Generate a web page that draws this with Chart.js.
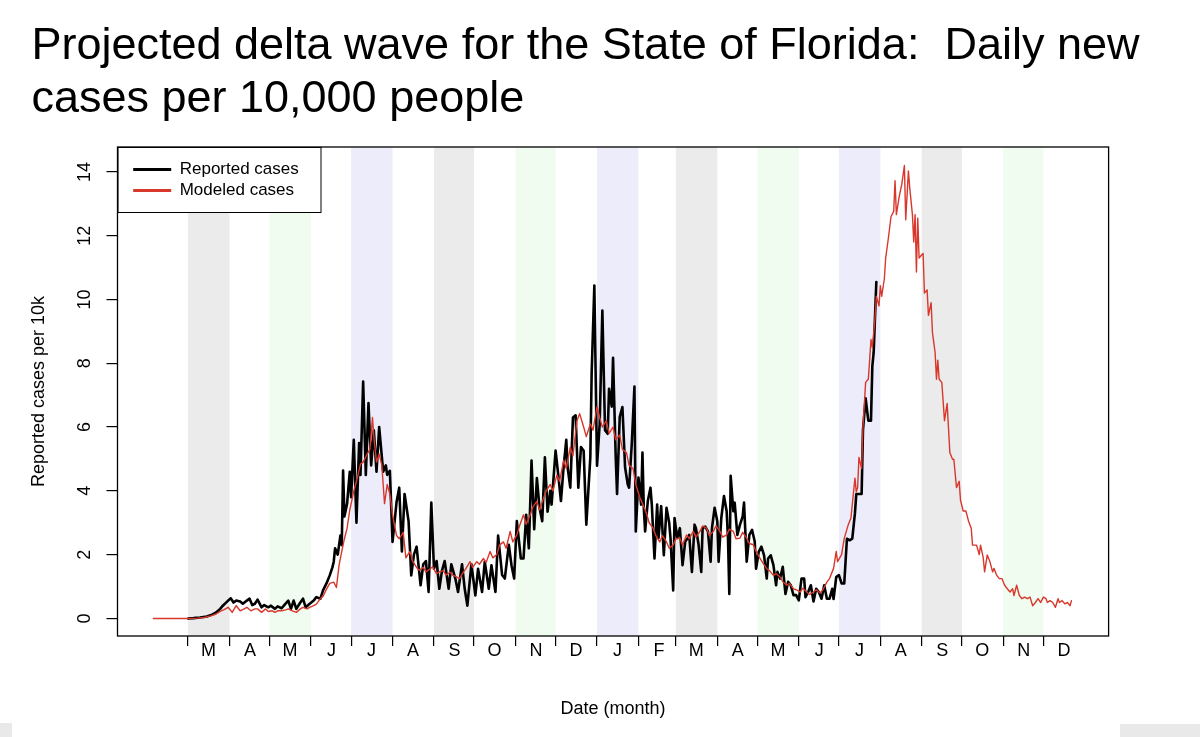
<!DOCTYPE html>
<html>
<head>
<meta charset="utf-8">
<title>Projected delta wave for the State of Florida</title>
<script src="https://cdn.jsdelivr.net/npm/chart.js@4.4.1/dist/chart.umd.min.js"></script>
<style>
  html, body { margin: 0; padding: 0; background: #fff; overflow: hidden; }
  #wrap { position: relative; width: 1200px; height: 737px; }
  #chart { display: block; }
  .tab { position: absolute; background: #e9e9e9; }
</style>
</head>
<body>
<div id="wrap">
  <canvas id="chart" width="1200" height="737"></canvas>
  <div class="tab" style="left:0;top:723px;width:12px;height:14px"></div>
  <div class="tab" style="left:1120px;top:724px;width:80px;height:13px"></div>
</div>
<script>
// day 0 = 4 Feb 2020
const monthStarts = [26, 57, 87, 118, 148, 179, 210, 240, 271, 301, 332,
  363, 391, 422, 452, 483, 513, 544, 575, 605, 636, 666];
const monthLabels = ['M', 'A', 'M', 'J', 'J', 'A', 'S', 'O', 'N', 'D', 'J',
  'F', 'M', 'A', 'M', 'J', 'J', 'A', 'S', 'O', 'N', 'D'];
const shadedMonths = [0, 2, 4, 6, 8, 10, 12, 14, 16, 18, 20];
const bandColors = ['#ebebeb', '#f0fcf0', '#ececfa'];
const yTicks = [0, 2, 4, 6, 8, 10, 12, 14];

const reportedDay = [
  26, 30, 35, 40, 44, 47, 50, 52, 54, 56,
  58, 60, 62, 65, 67, 70, 72, 74, 76, 78,
  81, 83, 86, 88, 91, 93, 96, 98, 101, 103,
  105, 107, 110, 112, 114, 117, 120, 122, 125, 127,
  130, 132, 134, 135, 136, 138, 140, 141, 142, 143,
  145, 147, 148, 150, 152, 154, 155, 157, 159, 161,
  163, 165, 167, 169, 172, 174, 175, 177, 179, 182,
  184, 186, 188, 191, 193, 195, 197, 200, 202, 204,
  206, 208, 210, 212, 214, 216, 218, 221, 223, 226,
  228, 231, 233, 235, 238, 241, 243, 246, 248, 251,
  253, 256, 258, 261, 263, 266, 268, 270, 272, 275,
  277, 279, 281, 283, 285, 287, 289, 291, 293, 295,
  297, 298, 301, 303, 305, 307, 309, 310, 312, 314,
  316, 318, 320, 322, 324, 327, 328, 330, 332, 334,
  336, 338, 340, 341, 343, 344, 346, 347, 349, 351,
  353, 355, 356, 358, 360, 361, 363, 365, 366, 367,
  368, 370, 372, 373, 375, 377, 378, 380, 382, 384,
  386, 387, 389, 390, 392, 394, 396, 398, 400, 401,
  403, 405, 406, 408, 410, 411, 413, 415, 417, 418,
  420, 422, 423, 425, 427, 429, 430, 431, 432, 434,
  435, 437, 439, 441, 442, 444, 446, 448, 450, 451,
  453, 455, 457, 459, 460, 462, 464, 466, 467, 469,
  471, 473, 475, 477, 479, 481, 483, 485, 487, 488,
  490, 492, 494, 496, 498, 500, 502, 504, 506, 508,
  509, 511, 513, 515, 517, 519, 521, 523, 525, 526,
  530, 531, 533, 535, 537, 538, 539, 541
];
const reportedCases = [
  0, 0.01, 0.03, 0.06, 0.12, 0.19, 0.3, 0.4, 0.48, 0.56,
  0.63, 0.5, 0.56, 0.53, 0.46, 0.56, 0.62, 0.42, 0.46, 0.59,
  0.35, 0.42, 0.35, 0.4, 0.3, 0.38, 0.32, 0.42, 0.56, 0.3,
  0.56, 0.3, 0.5, 0.62, 0.35, 0.46, 0.56, 0.67, 0.62, 0.88,
  1.14, 1.35, 1.6, 1.78, 2.2, 2.0, 2.6, 2.3, 4.64, 3.2,
  3.6, 4.6, 3.8, 5.6, 3.0, 5.5, 4.5, 7.43, 4.5, 6.75,
  4.8, 5.9, 4.6, 6.0, 4.6, 4.8, 4.5, 4.63, 2.4, 3.65,
  4.1, 2.1, 3.9, 3.05, 1.35, 2.0, 2.25, 1.04, 1.7, 1.8,
  0.83, 3.63, 1.56, 1.8, 0.93, 1.5, 1.8, 0.93, 1.7, 1.25,
  0.83, 1.7, 0.93, 0.4, 1.7, 0.72, 1.56, 0.83, 1.78, 0.93,
  1.67, 0.83, 2.6, 1.36, 1.25, 2.31, 1.67, 1.25, 3.05, 1.88,
  1.88, 3.25, 2.2, 4.95, 2.8, 4.4, 3.46, 3.05, 5.05, 3.35,
  4.0, 3.57, 5.26, 4.5, 3.68, 4.74, 5.6, 4.74, 4.1, 6.3,
  6.37, 4.1, 5.37, 5.26, 2.94, 5.05, 7.7, 10.44, 4.79, 6.1,
  9.65, 5.9, 5.79, 7.2, 6.64, 8.17, 5.05, 3.9, 6.32, 6.63,
  4.74, 4.2, 4.1, 5.47, 7.27, 2.73, 4.42, 3.57, 5.2, 3.47,
  2.73, 3.68, 4.1, 3.57, 1.88, 3.57, 2.52, 3.52, 1.98, 3.47,
  3.0, 2.52, 0.88, 3.15, 2.52, 2.83, 1.67, 2.41, 2.52, 2.62,
  1.46, 2.94, 2.83, 2.31, 1.46, 2.83, 2.88, 2.73, 1.78, 2.83,
  3.47, 3.05, 1.78, 3.15, 3.84, 3.36, 2.52, 0.77, 4.47, 3.36,
  3.63, 2.62, 2.94, 3.2, 3.63, 1.78, 2.62, 2.78, 2.41, 1.56,
  2.09, 2.25, 1.98, 1.25, 1.88, 1.98, 1.67, 1.04, 1.46, 1.25,
  1.62, 0.77, 1.15, 1.04, 0.73, 0.73, 0.57, 1.25, 1.25, 0.67,
  0.83, 1.04, 0.53, 0.93, 0.83, 0.62, 1.04, 0.62, 0.62, 0.93,
  0.61, 1.3, 1.36, 1.1, 1.1, 2.5, 2.45, 2.5, 3.3, 3.9,
  3.9, 5.9, 6.9, 6.2, 6.2, 7.9, 8.33, 10.55
];

const modeledDay = [
  0, 26, 33, 38, 43, 47, 50, 53, 56, 59,
  62, 65, 68, 70, 73, 76, 78, 81, 84, 86,
  89, 91, 93, 96, 99, 101, 104, 107, 110, 112,
  115, 117, 120, 122, 125, 127, 130, 132, 135, 137,
  139, 141, 143, 145, 147, 150, 152, 155, 157, 160,
  162, 164, 165, 167, 169, 171, 173, 175, 177, 179,
  182, 184, 187, 189, 192, 194, 197, 199, 202, 204,
  207, 209, 212, 214, 217, 219, 222, 224, 227, 229,
  232, 234, 237, 239, 242, 244, 247, 249, 252, 254,
  257, 259, 262, 264, 267, 269, 272, 274, 277, 279,
  282, 284, 287, 289, 292, 294, 297, 299, 302, 304,
  307, 309, 312, 314, 317, 319, 322, 324, 327, 329,
  332, 334, 336, 339, 341, 344, 346, 349, 351, 354,
  356, 359, 361, 364, 366, 369, 371, 374, 376, 379,
  381, 384, 386, 389, 391, 394, 396, 399, 401, 404,
  406, 409, 411, 414, 416, 419, 421, 424, 426, 429,
  431, 434, 436, 439, 441, 444, 446, 449, 451, 454,
  456, 459, 461, 464, 466, 469, 471, 474, 476, 479,
  481, 484, 486, 489, 491, 494, 496, 499, 501, 504,
  506, 509, 511, 512, 515, 517, 520, 522, 525, 526,
  527, 528, 530, 531, 533, 535, 536, 537, 538, 540,
  541, 543, 544, 545, 547, 548, 550, 552, 554, 555,
  556, 558, 560, 562, 563, 565, 566, 568, 569, 570,
  571, 572, 573, 575, 576, 577, 579, 580, 582, 583,
  585, 586, 587, 588, 590, 592, 594, 596, 598, 599,
  601, 603, 604, 606, 608, 610, 612, 613, 616, 618,
  619, 621, 622, 624, 626, 628, 629, 631, 633, 635,
  637, 639, 641, 643, 644, 646, 648, 650, 652, 654,
  656, 658, 660, 662, 664, 666, 668, 669, 671, 673,
  675, 677, 678, 680, 682, 684, 686, 687
];
const modeledCases = [
  0, 0, 0.01, 0.03, 0.08, 0.14, 0.22, 0.28, 0.35, 0.19,
  0.4, 0.24, 0.3, 0.35, 0.24, 0.3, 0.3, 0.19, 0.3, 0.22,
  0.24, 0.19, 0.24, 0.24, 0.27, 0.3, 0.24, 0.19, 0.3, 0.35,
  0.3, 0.35, 0.4, 0.45, 0.62, 0.7, 0.95, 1.1, 1.14, 0.97,
  1.67, 2.1, 2.5, 2.83, 3.4, 3.99, 4.3, 4.84, 4.9, 5.15,
  5.3, 6.3, 5.7, 4.9, 5.15, 4.8, 3.6, 4.2, 3.9, 3.25,
  2.6, 2.5, 2.7, 1.9, 2.1, 1.8, 1.6, 1.51, 1.6, 1.46,
  1.55, 1.62, 1.4, 1.46, 1.5, 1.36, 1.45, 1.36, 1.3, 1.25,
  1.45, 1.57, 1.78, 1.6, 1.78, 1.7, 1.88, 1.75, 2.1, 1.9,
  2.0, 2.3, 2.4, 2.2, 2.73, 2.4, 2.62, 2.9, 3.25, 2.95,
  3.25, 3.5, 3.67, 3.4, 3.78, 4.0, 4.2, 4.0, 4.5, 4.3,
  4.95, 4.7, 5.37, 5.1, 6.2, 6.42, 6.0, 5.7, 6.1, 5.9,
  6.64, 6.3, 6.0, 6.2, 5.8, 6.0, 5.6, 5.75, 5.3, 5.2,
  4.8, 4.7, 4.2, 3.8, 3.6, 3.3, 3.0, 2.83, 2.6, 2.4,
  2.6, 2.4, 2.2, 2.3, 2.5, 2.52, 2.3, 2.62, 2.5, 2.73,
  2.55, 2.73, 2.9, 2.83, 2.6, 2.73, 2.9, 2.73, 2.55, 2.62,
  2.8, 2.73, 2.5, 2.52, 2.7, 2.52, 2.35, 2.31, 2.1, 1.88,
  1.75, 1.56, 1.5, 1.35, 1.4, 1.3, 1.15, 1.04, 1.1, 0.93,
  0.9, 0.83, 0.95, 0.83, 0.75, 0.83, 0.9, 0.8, 0.9, 1.14,
  1.25, 1.57, 2.1, 1.78, 2.0, 2.51, 2.94, 3.15, 4.4, 3.97,
  4.1, 5.05, 4.7, 6.0, 7.4, 7.5, 8.1, 8.75, 8.5, 9.4,
  10.1, 9.8, 10.43, 10.1, 10.65, 11.3, 11.92, 12.6, 12.76, 13.72,
  12.66, 13.2, 13.6, 14.2, 12.5, 14.03, 13.5, 12.66, 11.8, 12.66,
  10.86, 12.55, 11.3, 11.4, 11.44, 10.2, 10.3, 9.5, 9.9, 8.96,
  8.33, 7.5, 8.1, 7.5, 7.4, 6.2, 6.74, 5.2, 4.99, 4.99,
  4.1, 4.3, 3.7, 3.37, 3.37, 3.05, 2.83, 2.3, 2.3, 2.0,
  2.3, 1.9, 1.46, 1.99, 1.78, 1.46, 1.57, 1.36, 1.25, 1.25,
  1.04, 0.93, 0.83, 0.93, 0.72, 1.04, 0.72, 0.62, 0.67, 0.62,
  0.67, 0.4, 0.5, 0.62, 0.5, 0.67, 0.62, 0.5, 0.56, 0.5,
  0.35, 0.62, 0.5, 0.56, 0.46, 0.5, 0.4, 0.56
];

const red = '#d8372b';

Chart.defaults.font.family = "'Liberation Sans', Arial, Helvetica, sans-serif";
Chart.defaults.color = '#000';

// month bands, legend box and the plot frame
const backdrop = {
  id: 'backdrop',
  afterLayout(chart) {
    const lg = chart.legend;
    const a = chart.chartArea;
    if (!lg) return;
    lg.left = a.left + 11.7;
    lg.right = lg.left + 190;
    lg.top = a.top + 10;
    lg.bottom = a.bottom;
  },
  beforeDraw(chart) {
    const {ctx, chartArea: a, scales: {x}} = chart;
    ctx.save();
    shadedMonths.forEach((m, i) => {
      const x0 = x.getPixelForValue(monthStarts[m]);
      const x1 = x.getPixelForValue(monthStarts[m + 1]);
      ctx.fillStyle = bandColors[i % bandColors.length];
      ctx.fillRect(x0, a.top, x1 - x0, a.bottom - a.top);
    });
    ctx.fillStyle = '#fff';
    ctx.fillRect(a.left, a.top, 203, 65);
    ctx.strokeStyle = '#000';
    ctx.lineWidth = 1;
    ctx.strokeRect(a.left + 0.5, a.top + 0.5, 203, 65);
    ctx.restore();
  },
  afterDraw(chart) {
    const {ctx, chartArea: a} = chart;
    ctx.save();
    ctx.strokeStyle = '#000';
    ctx.lineWidth = 1.3;
    ctx.strokeRect(a.left, a.top, a.right - a.left, a.bottom - a.top);
    ctx.restore();
  }
};

new Chart(document.getElementById('chart'), {
  type: 'line',
  data: {
    datasets: [{
      label: 'Reported cases',
      data: reportedDay.map((d, i) => ({x: d, y: reportedCases[i]})),
      borderColor: '#000',
      backgroundColor: '#000',
      borderWidth: 2.6,
      xAxisID: 'x',
      yAxisID: 'y',
      order: 2
    }, {
      label: 'Modeled cases',
      data: modeledDay.map((d, i) => ({x: d, y: modeledCases[i]})),
      borderColor: red,
      backgroundColor: red,
      borderWidth: 1.4,
      xAxisID: 'x',
      yAxisID: 'y',
      order: 1
    }]
  },
  options: {
    responsive: false,
    animation: false,
    events: [],
    layout: {padding: {left: 31.4, right: 58.4, top: 0, bottom: 0}},
    elements: {
      point: {radius: 0},
      line: {tension: 0, borderJoinStyle: 'round', borderCapStyle: 'round'}
    },
    scales: {
      x: {
        type: 'linear',
        min: -26.8,
        max: 714.8,
        afterBuildTicks: (axis) => { axis.ticks = monthStarts.map(v => ({value: v})); },
        ticks: {
          autoSkip: false,
          minRotation: 0,
          maxRotation: 0,
          labelOffset: 20.5,
          padding: -6,
          font: {size: 18},
          callback: (v, i) => monthLabels[i]
        },
        grid: {drawOnChartArea: false, drawTicks: true, tickLength: 10, color: '#000', lineWidth: 1.2},
        border: {display: false},
        title: {display: true, text: 'Date (month)', font: {size: 18, lineHeight: 1.2}, padding: {top: 42.6, bottom: 17.2}}
      },
      y: {
        type: 'linear',
        min: -0.55,
        max: 14.78,
        afterBuildTicks: (axis) => { axis.ticks = yTicks.map(v => ({value: v})); },
        ticks: {
          minRotation: 90,
          maxRotation: 90,
          crossAlign: 'center',
          padding: 11.5,
          font: {size: 18},
          callback: (v) => String(v)
        },
        grid: {drawOnChartArea: false, drawTicks: true, tickLength: 11, color: '#000', lineWidth: 1.2},
        border: {display: false},
        title: {display: true, text: 'Reported cases per 10k', font: {size: 18, lineHeight: 0.8}, padding: {top: 0, bottom: 16.1}}
      },
      spacer: {
        type: 'linear',
        position: 'right',
        grid: {display: false},
        ticks: {display: false},
        border: {display: false},
        afterFit: (s) => { s.width = 33; }
      }
    },
    plugins: {
      title: {
        display: true,
        align: 'start',
        text: ['Projected delta wave for the State of Florida:  Daily new', 'cases per 10,000 people'],
        color: '#000',
        font: {size: 45, weight: 'normal', lineHeight: 1.1844},
        padding: {top: 19.45, bottom: 20.95}
      },
      legend: {
        position: 'chartArea',
        align: 'start',
        labels: {
          usePointStyle: true,
          pointStyle: 'line',
          pointStyleWidth: 38,
          padding: 4,
          color: '#000',
          font: {size: 17},
          sort: (a, b) => a.datasetIndex - b.datasetIndex,
          generateLabels: (chart) => Chart.defaults.plugins.legend.labels.generateLabels(chart)
            .map(item => Object.assign(item, {lineWidth: 3}))
        }
      },
      tooltip: {enabled: false}
    }
  },
  plugins: [backdrop]
});
</script>
</body>
</html>
